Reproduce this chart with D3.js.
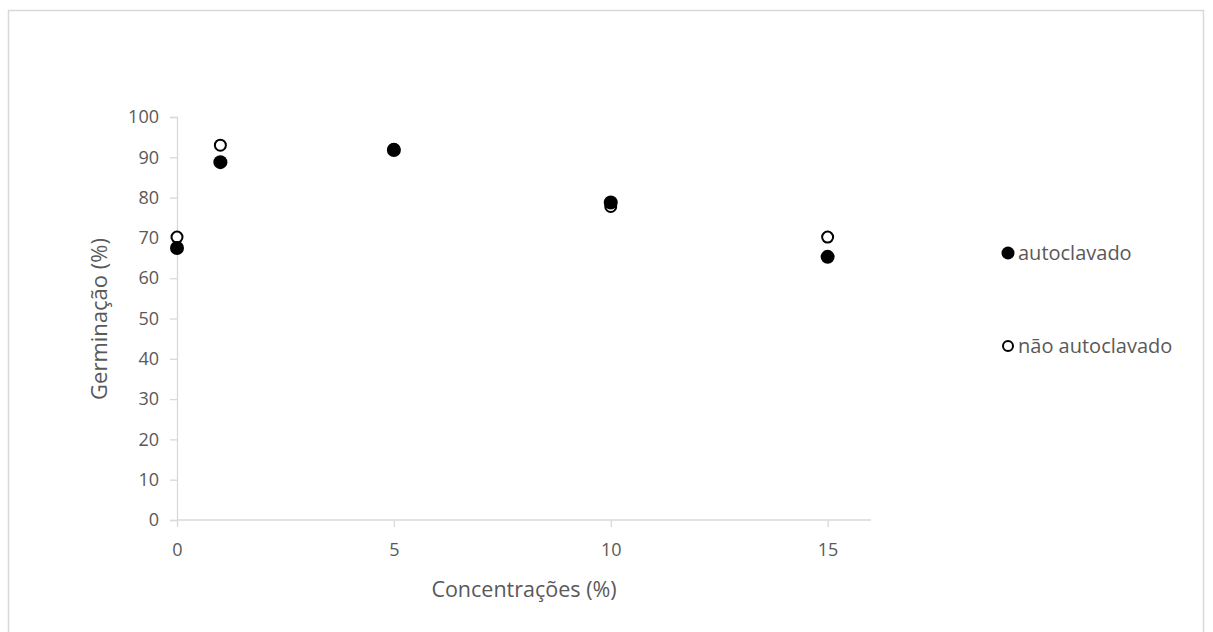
<!DOCTYPE html>
<html>
<head>
<meta charset="utf-8">
<script src="https://cdn.jsdelivr.net/npm/d3@7"></script>
<style>
  body { margin: 0; background: #fff; }
  text { font-family: "Open Sans", "Noto Sans", sans-serif; fill: #595959; }
</style>
</head>
<body>
<script>
// concentrations on the x axis
var concentracoes = [0, 1, 5, 10, 15];
// germination, autoclaved substrate
var autoclavado = [67.5, 88.8, 91.8, 78.8, 65.3];
// germination, non-autoclaved substrate
var naoAutoclavado = [70.2, 93.0, 92.0, 77.8, 70.2];
var xTicks = [0, 5, 10, 15];
var yTicks = [0, 10, 20, 30, 40, 50, 60, 70, 80, 90, 100];
var seriesNames = ["autoclavado", "não autoclavado"];

var W = 1213, H = 632;
var svg = d3.select("body").append("svg")
    .attr("width", W)
    .attr("height", H);

// outer chart frame
svg.append("rect")
    .attr("x", 8.5).attr("y", 10.5)
    .attr("width", 1195).attr("height", 640)
    .attr("fill", "none")
    .attr("stroke", "#d9d9d9")
    .attr("stroke-width", 1.5);

var x = d3.scaleLinear().domain([0, 16]).range([177, 871]);
var y = d3.scaleLinear().domain([0, 100]).range([520, 117]);

// y axis
var yAxis = svg.append("g")
    .attr("transform", "translate(177,0)")
    .call(d3.axisLeft(y).tickValues(yTicks).tickSize(7).tickPadding(11));
yAxis.select(".domain").attr("stroke", "#d9d9d9").attr("stroke-width", 1.3);
yAxis.selectAll(".tick line").attr("stroke", "#d9d9d9").attr("stroke-width", 1.3);
yAxis.selectAll(".tick text").style("font-size", "18px").attr("fill", "#595959");

// x axis
var xAxis = svg.append("g")
    .attr("transform", "translate(0,520)")
    .call(d3.axisBottom(x).tickValues(xTicks).tickSize(7).tickPadding(16));
xAxis.select(".domain").attr("stroke", "#d9d9d9").attr("stroke-width", 1.3)
    .attr("d", "M" + x(0) + ",0H" + x(16));
xAxis.selectAll(".tick line").attr("stroke", "#d9d9d9").attr("stroke-width", 1.3);
xAxis.selectAll(".tick text").style("font-size", "18px").attr("fill", "#595959");

// axis titles
svg.append("text")
    .attr("x", 524).attr("y", 597)
    .attr("text-anchor", "middle")
    .style("font-size", "21.5px")
    .text("Concentrações (%)");

svg.append("text")
    .attr("transform", "translate(107,319) rotate(-90)")
    .attr("text-anchor", "middle")
    .style("font-size", "22px")
    .text("Germinação (%)");

// points: open series first, filled drawn on top
svg.append("g").selectAll("circle")
    .data(concentracoes)
    .join("circle")
    .attr("cx", function (d) { return x(d); })
    .attr("cy", function (d, i) { return y(naoAutoclavado[i]); })
    .attr("r", 5.5)
    .attr("fill", "#fff")
    .attr("stroke", "#000")
    .attr("stroke-width", 2);

svg.append("g").selectAll("circle")
    .data(concentracoes)
    .join("circle")
    .attr("cx", function (d) { return x(d); })
    .attr("cy", function (d, i) { return y(autoclavado[i]); })
    .attr("r", 7)
    .attr("fill", "#000");

// legend
var legend = svg.append("g").selectAll("g")
    .data(seriesNames)
    .join("g")
    .attr("transform", function (d, i) { return "translate(1008," + (253 + i * 93) + ")"; });
legend.append("circle")
    .attr("r", function (d, i) { return i === 0 ? 6.5 : 5; })
    .attr("fill", function (d, i) { return i === 0 ? "#000" : "#fff"; })
    .attr("stroke", "#000")
    .attr("stroke-width", function (d, i) { return i === 0 ? 0 : 2; });
legend.append("text")
    .attr("x", 10).attr("dy", "0.35em")
    .style("font-size", "20px")
    .text(function (d) { return d; });
</script>
</body>
</html>
